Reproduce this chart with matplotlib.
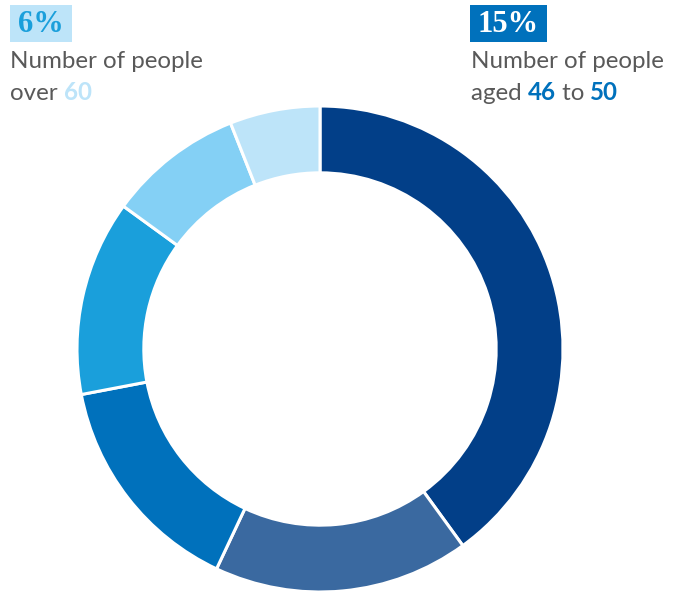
import matplotlib
matplotlib.use("Agg")
import matplotlib.pyplot as plt
from matplotlib.patches import Rectangle

shares = [40, 17, 15, 13, 9, 6]
colors = ["#023f88", "#3a69a0", "#0071bc", "#1a9fdb", "#84d0f5", "#bde4f9"]

W, H = 681, 591
fig = plt.figure(figsize=(W / 100, H / 100), dpi=100)
ax = fig.add_axes([0, 0, 1, 1])
ax.set_xlim(0, W)
ax.set_ylim(0, H)
ax.set_aspect("equal")
ax.axis("off")

R = 243
ax.pie(shares, colors=colors, startangle=90, counterclock=False,
       center=(320, H - 349), radius=R, frame=True,
       wedgeprops=dict(width=R * 0.275, edgecolor="white", linewidth=2.2))
ax.set_xlim(0, W)
ax.set_ylim(0, H)
ax.axis("off")

grey = "#595959"
fs = 17.4
sans = "Lato"

def Y(y):
    return H - y

# left label
ax.add_patch(Rectangle((10, Y(42)), 62, 37, facecolor="#bde4f9", edgecolor="none"))
ax.text(41, Y(24), "6%", ha="center", va="center", fontsize=22,
        family="Liberation Serif", fontweight="bold", color="#1a9fdb")
# right label
ax.add_patch(Rectangle((470, Y(42)), 77, 37, facecolor="#0071bc", edgecolor="none"))
ax.text(508.5, Y(24), "15%", ha="center", va="center", fontsize=22,
        family="Liberation Serif", fontweight="bold", color="white")

fig.canvas.draw()
renderer = fig.canvas.get_renderer()

def runs(x, y, parts):
    for txt, col, wt in parts:
        t = ax.text(x, Y(y), txt, ha="left", va="baseline", fontsize=fs,
                    family=sans, color=col, fontweight=wt)
        bb = t.get_window_extent(renderer=renderer)
        x += bb.width

runs(10, 68, [("Number of people", grey, "normal")])
runs(10, 100, [("over ", grey, "normal"), ("60", "#bde4f9", "bold")])
runs(471, 68, [("Number of people", grey, "normal")])
runs(471, 100, [("aged ", grey, "normal"), ("46", "#0071bc", "bold"),
                (" to ", grey, "normal"), ("50", "#0071bc", "bold")])

fig.savefig("out.png", dpi=100)
